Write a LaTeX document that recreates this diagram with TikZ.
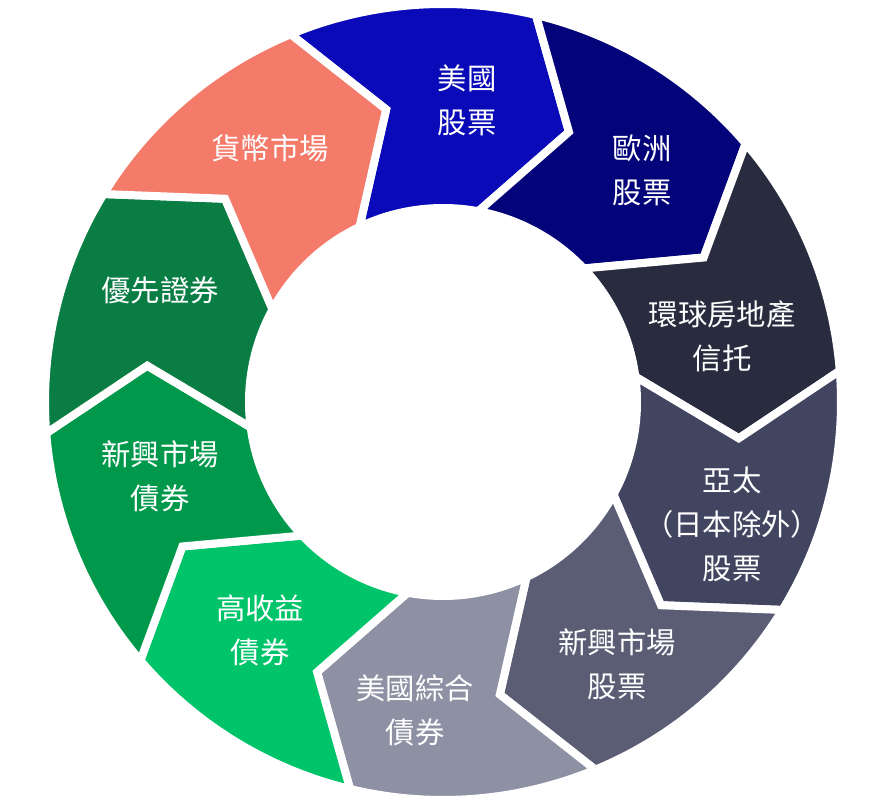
\documentclass[tikz,border=0pt]{standalone}
\usepackage{fontspec}
\usetikzlibrary{calc}
\newfontfamily\cjk{Noto Sans CJK TC}
\definecolor{c1}{HTML}{0A0AB8}
\definecolor{c2}{HTML}{03037A}
\definecolor{c3}{HTML}{292C3E}
\definecolor{c4}{HTML}{424560}
\definecolor{c5}{HTML}{5B5D75}
\definecolor{c6}{HTML}{8E90A3}
\definecolor{c7}{HTML}{00C46A}
\definecolor{c8}{HTML}{00994C}
\definecolor{c9}{HTML}{0A7D45}
\definecolor{c10}{HTML}{F47A6A}
\tikzset{seg/.style={draw=white,line width=6pt,line join=miter},
  lab/.style={text=white,align=center,font=\cjk\fontsize{22}{33}\selectfont}}
\begin{document}
\begin{tikzpicture}[x=0.75pt,y=0.75pt]
\useasboundingbox (0,0) rectangle (884,806);
\coordinate (O) at (443,404);
\foreach \i/\c in {0/c1,1/c2,2/c3,3/c4,4/c5,5/c6,6/c7,7/c8,8/c9,9/c10}{
  \pgfmathsetmacro{\ta}{114-36*\i}
  \pgfmathsetmacro{\tb}{\ta-36}
  \filldraw[fill=\c,seg] ($(O)+(\ta-1.5:398)$) arc[start angle=\ta-1.5,end angle=\tb-1.5,radius=398]
    -- ($(O)+(\tb-13:298)$) -- ($(O)+(\tb+1.5:194)$)
    arc[start angle=\tb+1.5,end angle=\ta+1.5,radius=194]
    -- ($(O)+(\ta-13:298)$) -- cycle;
}
\node[lab] (n1) at (467,706) {美國\\股票};
\node[lab] (n2) at (642,636) {歐洲\\股票};
\node[lab] (n3) at (722,470) {環球房地產\\信托};
\node[lab] (n4) at (732,282) {亞太\\（日本除外）\\股票};
\node[lab] (n5) at (617,142) {新興市場\\股票};
\node[lab] (n6) at (415,96) {美國綜合\\債券};
\node[lab] (n7) at (260,176) {高收益\\債券};
\node[lab] (n8) at (160,330) {新興市場\\債券};
\node[lab] (n9) at (160,516) {優先證券};
\node[lab] (n10) at (270,658) {貨幣市場};
\end{tikzpicture}
\end{document}
